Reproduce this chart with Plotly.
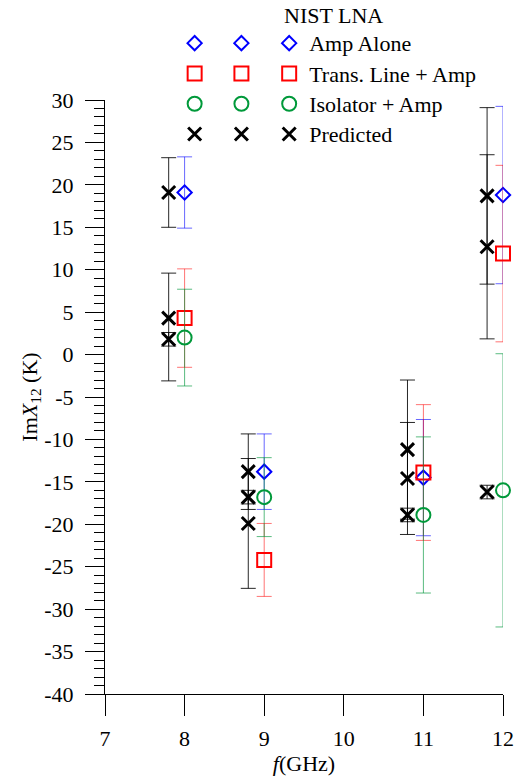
import plotly.graph_objects as go

# ---- data ----
freqs = [8, 9, 11, 12]
amp_alone = [19.1, -13.8, -14.5, 18.8]
amp_alone_err = [4.2, 4.45, 6.85, 10.45]
line_amp = [4.3, -24.2, -13.9, 11.9]
line_amp_err = [5.8, 4.3, 8.0, 10.4]
iso_amp = [2.0, -16.8, -18.9, -16.0]
iso_amp_err = [5.7, 4.65, 9.2, 16.1]

pred_freqs = [7.8, 8.8, 10.8, 11.8]
pred_amp = [19.1, -13.8, -14.6, 18.7]
pred_amp_err_up = [4.1, 4.45, 6.6, 10.4]
pred_amp_err_down = [4.1, 4.45, 6.6, 10.4]
pred_line = [4.3, -19.9, -11.2, 12.7]
pred_line_err_up = [5.3, 7.65, 8.2, 10.85]
pred_line_err_down = [7.4, 7.65, 8.2, 10.85]
pred_iso = [1.8, -16.8, -18.9, -16.2]
pred_iso_err_up = [0.8, 0.8, 0.8, 0.8]
pred_iso_err_down = [0.8, 0.8, 0.8, 0.8]

x_ticks = [7, 8, 9, 10, 11, 12]
y_ticks = [-40, -35, -30, -25, -20, -15, -10, -5, 0, 5, 10, 15, 20, 25, 30]
y_tick_text = ["-40", "-35", "-30", "-25", "-20", "-15", "-10", "-5", "0",
               "5", "10", "15", "20", "25", "30"]
series_names = ["Amp Alone", "Trans. Line + Amp", "Isolator + Amp", "Predicted"]

FONT = "'Liberation Serif', 'Times New Roman', Times, serif"
BLUE, RED, GREEN, BLACK = "#0000ff", "#ff0000", "#00993a", "#000000"

styles = {
    "amp": dict(symbol="diamond-open", size=11, color=BLUE, line=dict(width=2, color=BLUE)),
    "line": dict(symbol="square-open", size=14, color=RED, line=dict(width=2, color=RED)),
    "iso": dict(symbol="circle-open", size=14, color=GREEN, line=dict(width=2, color=GREEN)),
    "pred": dict(symbol="x-thin", size=13, color=BLACK, line=dict(width=3, color=BLACK)),
}

def lname(s):
    return "<span style='font-size:22px'>" + s + "</span>"

fig = go.Figure()

def err(vals, color, minus=None):
    d = dict(type="data", array=vals, visible=True, color=color, thickness=1, width=7.5)
    if minus is not None:
        d["symmetric"] = False
        d["arrayminus"] = minus
    return d

fig.add_trace(go.Scatter(x=freqs, y=amp_alone, mode="markers", name=lname(series_names[0]),
                         marker=styles["amp"], error_y=err(amp_alone_err, "rgba(0,0,255,0.6)"),
                         legend="legend3", legendgroup="g1", cliponaxis=False))
fig.add_trace(go.Scatter(x=freqs, y=line_amp, mode="markers", name=lname(series_names[1]),
                         marker=styles["line"], error_y=err(line_amp_err, "rgba(255,0,0,0.55)"),
                         legend="legend3", legendgroup="g2", cliponaxis=False))
fig.add_trace(go.Scatter(x=freqs, y=iso_amp, mode="markers", name=lname(series_names[2]),
                         marker=styles["iso"], error_y=err(iso_amp_err, "rgba(0,150,60,0.65)"),
                         legend="legend3", legendgroup="g3", cliponaxis=False))
fig.add_trace(go.Scatter(x=pred_freqs * 3, y=pred_amp + pred_line + pred_iso, mode="markers",
                         name=lname(series_names[3]), marker=styles["pred"],
                         error_y=err(pred_amp_err_up + pred_line_err_up + pred_iso_err_up,
                                     "rgba(0,0,0,0.85)",
                                     pred_amp_err_down + pred_line_err_down + pred_iso_err_down),
                         legend="legend3", legendgroup="g4", cliponaxis=False))

# extra legend columns (symbols only), as in the original figure
for leg in ["legend", "legend2"]:
    for g, key in zip(["g1", "g2", "g3", "g4"], ["amp", "line", "iso", "pred"]):
        fig.add_trace(go.Scatter(x=[None], y=[None], mode="markers", name="\u00a0",
                                 marker=styles[key], legend=leg, legendgroup=g,
                                 showlegend=True))

def px_x(p):
    return (p - 105) / 400.0

def px_y(p):
    return (694 - p) / 594.0

legend_common = dict(font=dict(family=FONT, size=21, color="black"), bgcolor="rgba(0,0,0,0)",
                     yanchor="top", y=px_y(23), xanchor="left", tracegroupgap=0,
                     traceorder="normal", itemclick=False, itemdoubleclick=False)

fig.update_layout(
    width=526, height=781,
    margin=dict(l=105, r=21, t=100, b=87),
    paper_bgcolor="white", plot_bgcolor="white",
    font=dict(family=FONT, size=22, color="black"),
    legend=dict(x=px_x(175), **legend_common),
    legend2=dict(x=px_x(222), **legend_common),
    legend3=dict(x=px_x(270), **legend_common),
    xaxis=dict(range=[7, 12], tickvals=x_ticks, ticks="outside", ticklen=21, tickcolor="black",
               showline=True, linecolor="black", linewidth=1, showgrid=False, zeroline=False,
               ticklabelstandoff=4, tickfont=dict(family=FONT, size=22),
               title=dict(text="<i>f</i>(GHz)", standoff=0, font=dict(family=FONT, size=22))),
    yaxis=dict(range=[-40, 30], tickvals=y_ticks, ticktext=y_tick_text, ticks="outside",
               ticklen=19, tickcolor="black",
               showline=True, linecolor="black", linewidth=1, showgrid=False, zeroline=False,
               ticklabelstandoff=7, tickfont=dict(family=FONT, size=22),
               minor=dict(dtick=1, ticks="outside", ticklen=10, tickcolor="black", showgrid=False),
               title=dict(text="Im<i>X</i><sub>12</sub> (K)", standoff=0,
                          font=dict(family=FONT, size=22))),
    annotations=[dict(text="NIST LNA", xref="paper", yref="paper", x=px_x(283), y=px_y(16),
                      xanchor="left", yanchor="middle", showarrow=False,
                      font=dict(family=FONT, size=22, color="black"))],
)

fig.write_html("out.html")
